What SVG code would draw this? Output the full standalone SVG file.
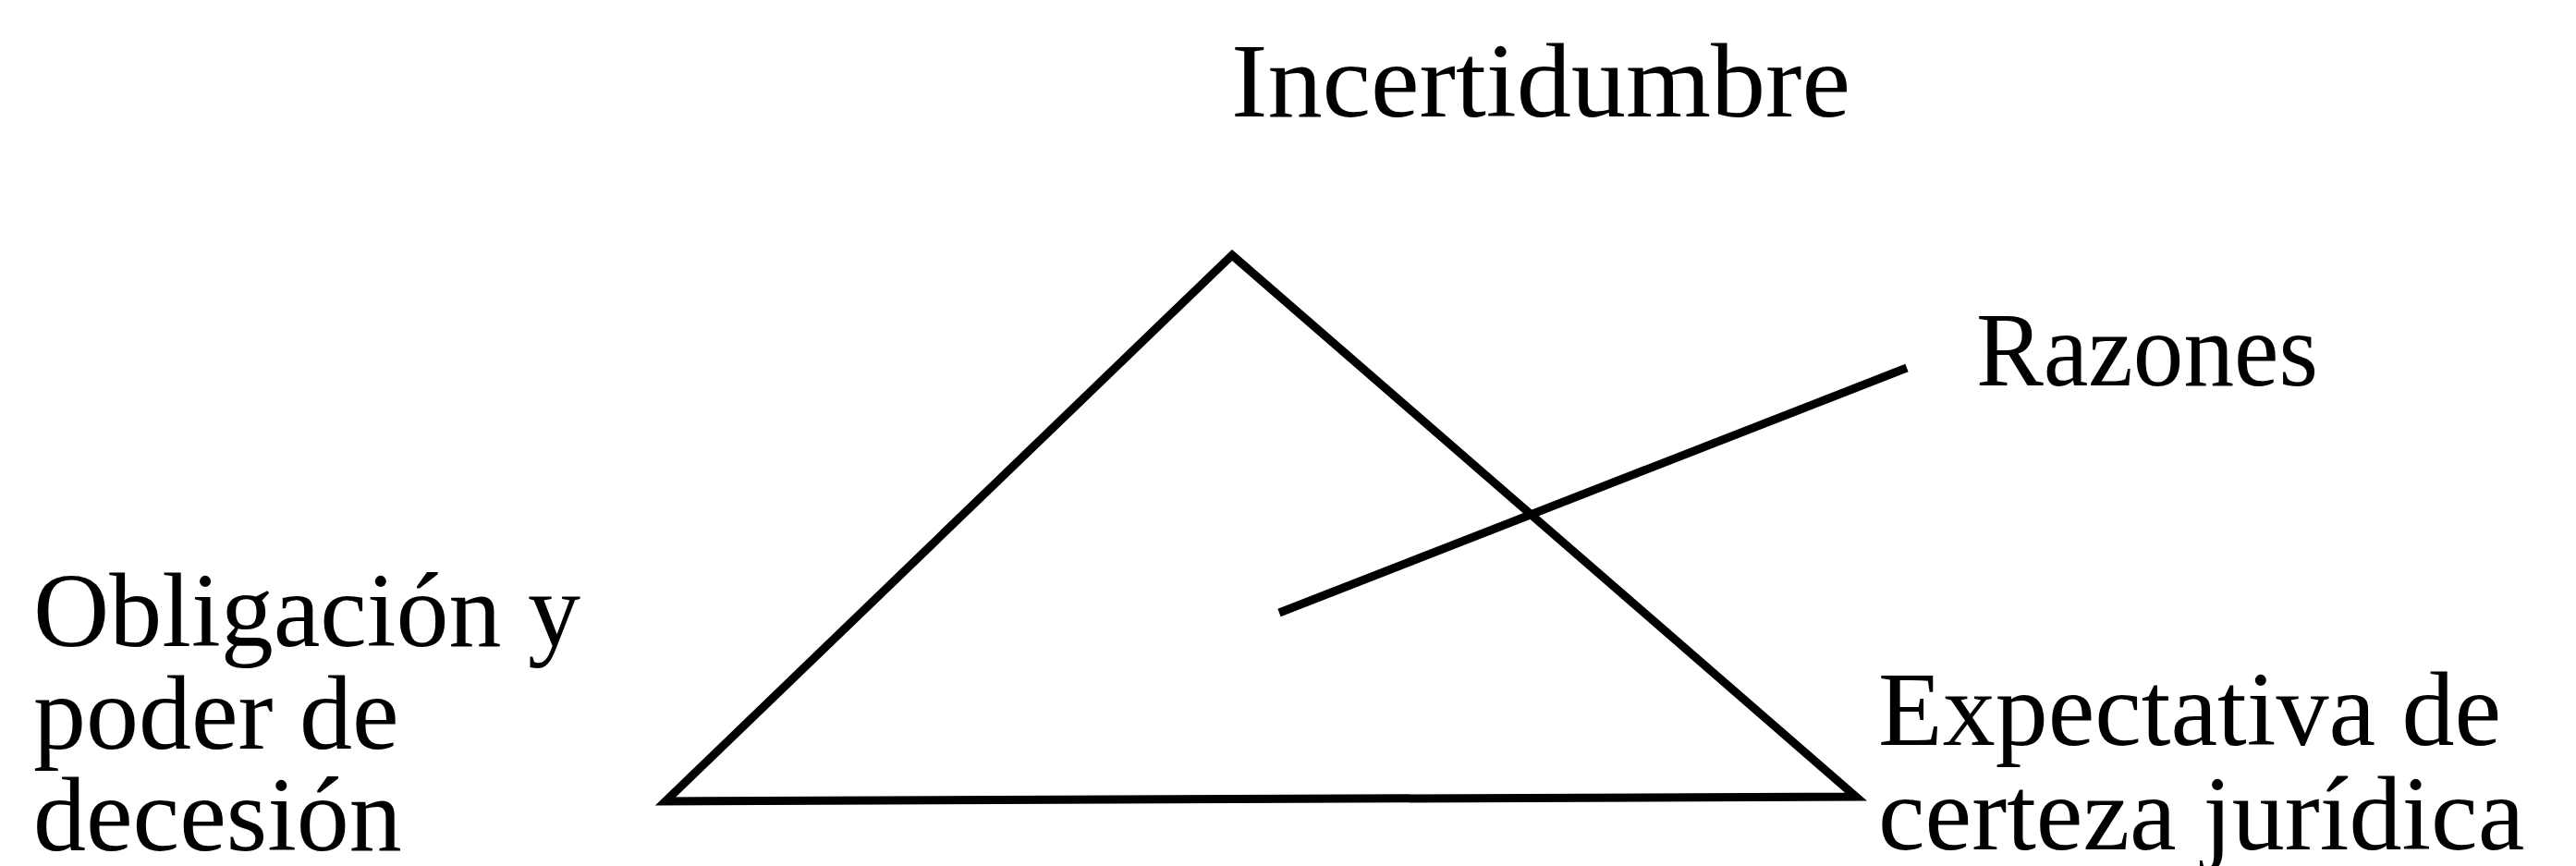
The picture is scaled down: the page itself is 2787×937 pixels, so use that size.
<svg xmlns="http://www.w3.org/2000/svg" width="2787" height="937" viewBox="0 0 2787 937">
<style>
.lbl{font-family:"Liberation Serif","Times New Roman",serif;font-size:114px;fill:#000}
.ln{stroke:#000;stroke-width:9;fill:none}
</style>
<rect width="2787" height="937" fill="#fff"/>
<g id="connectors">
<polygon class="ln" stroke-linejoin="miter" points="1333,276 2008,862 720,867"/>
<line class="ln" x1="1384" y1="663" x2="2063" y2="398"/>
</g>
<g id="incertidumbre"><text class="lbl" x="1332" y="126" textLength="670" lengthAdjust="spacingAndGlyphs">Incertidumbre</text></g>
<g id="razones"><text class="lbl" x="2138" y="417" textLength="370" lengthAdjust="spacingAndGlyphs">Razones</text></g>
<g id="obligacion">
<text class="lbl" x="36" y="699">Obligación y</text>
<text class="lbl" x="36" y="810">poder de</text>
<text class="lbl" x="36" y="920">decesión</text>
</g>
<g id="expectativa">
<text class="lbl" x="2032" y="806">Expectativa de</text>
<text class="lbl" x="2032" y="919">certeza jurídica</text>
</g>
</svg>
